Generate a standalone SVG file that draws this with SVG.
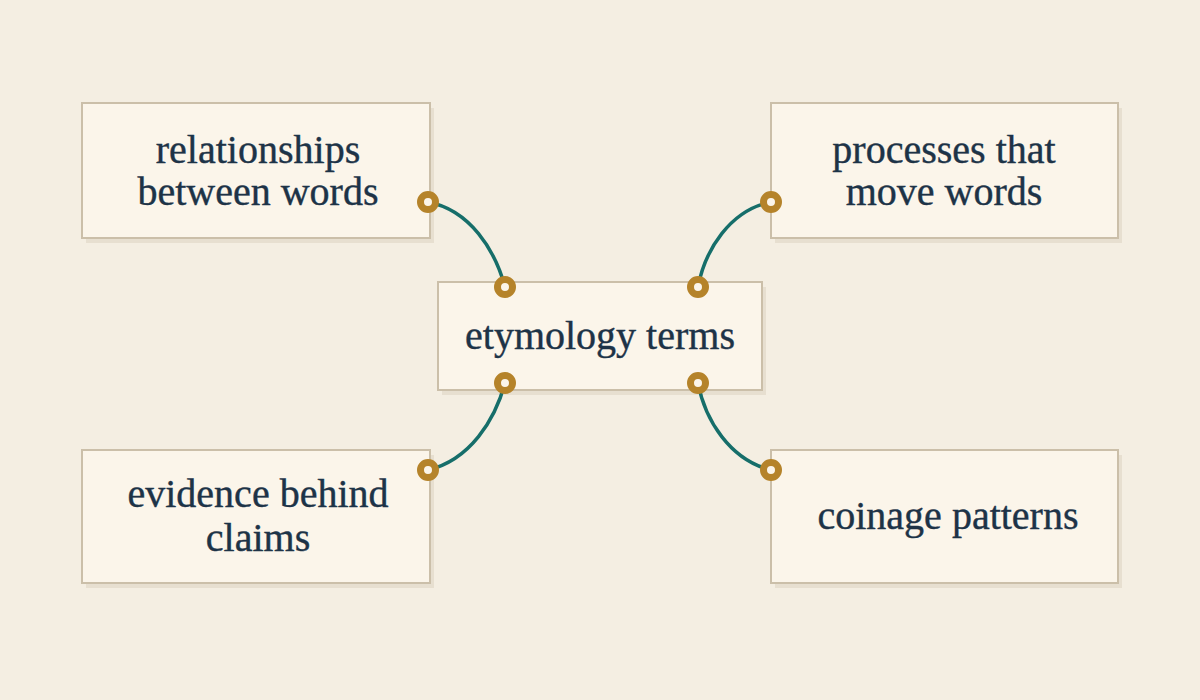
<svg xmlns="http://www.w3.org/2000/svg" width="1200" height="700" viewBox="0 0 1200 700">
<defs>
<style>
.box{fill:#fbf5ea;stroke:#cbbfa9;stroke-width:2}
.sh{fill:#d9cfbd;opacity:0.5}
.t{font-family:"Liberation Serif",serif;font-size:40px;fill:#1d3347;text-anchor:middle;stroke:#1d3347;stroke-width:0.4}
.c{fill:none;stroke:#166e6a;stroke-width:3.5;stroke-linecap:round}
.r{fill:#fbf5ea;stroke:#b5832a;stroke-width:7}
</style>
</defs>
<rect width="1200" height="700" fill="#f4eee2"/>
<g id="n-rel"><rect class="sh" x="86" y="108" width="348" height="135"/><rect class="box" x="82" y="103" width="348" height="135"/><text class="t" x="258" y="163">relationships</text><text class="t" x="258" y="205">between words</text></g>
<g id="n-proc"><rect class="sh" x="775" y="108" width="347" height="135"/><rect class="box" x="771" y="103" width="347" height="135"/><text class="t" x="944" y="163">processes that</text><text class="t" x="944" y="205">move words</text></g>
<g id="n-center"><rect class="sh" x="442" y="287" width="324" height="108"/><rect class="box" x="438" y="282" width="324" height="108"/><text class="t" x="600" y="349">etymology terms</text></g>
<g id="n-evid"><rect class="sh" x="86" y="455" width="348" height="133"/><rect class="box" x="82" y="450" width="348" height="133"/><text class="t" x="258" y="507">evidence behind</text><text class="t" x="258" y="551">claims</text></g>
<g id="n-coin"><rect class="sh" x="775" y="455" width="347" height="133"/><rect class="box" x="771" y="450" width="347" height="133"/><text class="t" x="948" y="529">coinage patterns</text></g>
<g id="connectors">
<path class="c" d="M428,202 C470,210 495,250 505,287"/>
<path class="c" d="M771,202 C730,210 705,250 698,287"/>
<path class="c" d="M428,470 C470,460 495,420 505,383"/>
<path class="c" d="M771,470 C730,460 705,420 698,383"/>
<circle class="r" cx="428" cy="202" r="7.5"/>
<circle class="r" cx="505" cy="287" r="7.5"/>
<circle class="r" cx="771" cy="202" r="7.5"/>
<circle class="r" cx="698" cy="287" r="7.5"/>
<circle class="r" cx="428" cy="470" r="7.5"/>
<circle class="r" cx="505" cy="383" r="7.5"/>
<circle class="r" cx="771" cy="470" r="7.5"/>
<circle class="r" cx="698" cy="383" r="7.5"/>
</g>
</svg>
